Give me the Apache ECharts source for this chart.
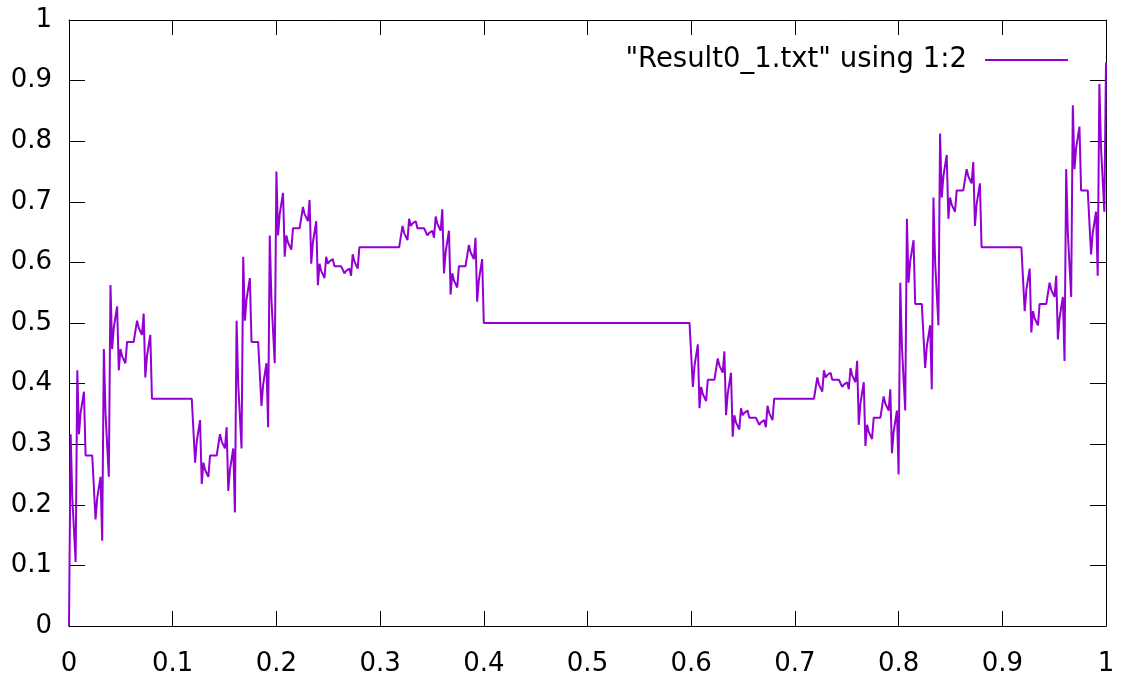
<!DOCTYPE html>
<html><head><meta charset="utf-8">
<script src="https://cdn.jsdelivr.net/npm/echarts@6/dist/echarts.min.js"></script>
<style>html,body{margin:0;padding:0;background:#fff}#c{width:1123px;height:681px}</style>
</head><body><div id="c"></div>
<script>
const seriesName = '"Result0_1.txt" using 1:2';
const xStart = 0;
const xStep = 0.0016;
const ys = [
0,.3164,.2109,.2109,.1055,.4219,.3164,.3516,.3516,.3867,.2813,.2813,.2813,.2813,.2813,.2813,.1758,.2109,.2109,.2461,.1406,.4570,.3516,.3516,.2461,
.5625,.4570,.4922,.4922,.5273,.4219,.4570,.4453,.4453,.4336,.4688,.4688,.4688,.4688,.4688,.4688,.5039,.4922,.4922,.4805,.5156,.4102,.4453,.4453,.4805,
.375,.375,.375,.375,.375,.375,.375,.375,.375,.375,.375,.375,.375,.375,.375,.375,.375,.375,.375,.375,.375,.375,.375,.375,.375,
.375,.2695,.3047,.3047,.3398,.2344,.2695,.2578,.2578,.2461,.2813,.2813,.2813,.2813,.2813,.2813,.3164,.3047,.3047,.2930,.3281,.2227,.2578,.2578,.2930,
.1875,.5039,.3984,.3984,.2930,.6094,.5039,.5391,.5391,.5742,.4688,.4688,.4688,.4688,.4688,.4688,.3633,.3984,.3984,.4336,.3281,.6445,.5391,.5391,.4336,
.75,.6445,.6797,.6797,.7148,.6094,.6445,.6328,.6328,.6211,.6563,.6563,.6563,.6563,.6563,.6563,.6914,.6797,.6797,.6680,.7031,.5977,.6328,.6328,.6680,
.5625,.5977,.5859,.5859,.5742,.6094,.5977,.6016,.6016,.6055,.5938,.5938,.5938,.5938,.5938,.5938,.5820,.5859,.5859,.5898,.5781,.6133,.6016,.6016,.5898,
.625,.625,.625,.625,.625,.625,.625,.625,.625,.625,.625,.625,.625,.625,.625,.625,.625,.625,.625,.625,.625,.625,.625,.625,.625,
.625,.6602,.6484,.6484,.6367,.6719,.6602,.6641,.6641,.6680,.6563,.6563,.6563,.6563,.6563,.6563,.6445,.6484,.6484,.6523,.6406,.6758,.6641,.6641,.6523,
.6875,.5820,.6172,.6172,.6523,.5469,.5820,.5703,.5703,.5586,.5938,.5938,.5938,.5938,.5938,.5938,.6289,.6172,.6172,.6055,.6406,.5352,.5703,.5703,.6055,
.5,.5,.5,.5,.5,.5,.5,.5,.5,.5,.5,.5,.5,.5,.5,.5,.5,.5,.5,.5,.5,.5,.5,.5,.5,
.5,.5,.5,.5,.5,.5,.5,.5,.5,.5,.5,.5,.5,.5,.5,.5,.5,.5,.5,.5,.5,.5,.5,.5,.5,
.5,.5,.5,.5,.5,.5,.5,.5,.5,.5,.5,.5,.5,.5,.5,.5,.5,.5,.5,.5,.5,.5,.5,.5,.5,
.5,.5,.5,.5,.5,.5,.5,.5,.5,.5,.5,.5,.5,.5,.5,.5,.5,.5,.5,.5,.5,.5,.5,.5,.5,
.5,.5,.5,.5,.5,.5,.5,.5,.5,.5,.5,.5,.5,.5,.5,.5,.5,.5,.5,.5,.5,.5,.5,.5,.5,
.5,.3945,.4297,.4297,.4648,.3594,.3945,.3828,.3828,.3711,.4063,.4063,.4063,.4063,.4063,.4063,.4414,.4297,.4297,.4180,.4531,.3477,.3828,.3828,.4180,
.3125,.3477,.3359,.3359,.3242,.3594,.3477,.3516,.3516,.3555,.3438,.3438,.3438,.3438,.3438,.3438,.3320,.3359,.3359,.3398,.3281,.3633,.3516,.3516,.3398,
.375,.375,.375,.375,.375,.375,.375,.375,.375,.375,.375,.375,.375,.375,.375,.375,.375,.375,.375,.375,.375,.375,.375,.375,.375,
.375,.4102,.3984,.3984,.3867,.4219,.4102,.4141,.4141,.4180,.4063,.4063,.4063,.4063,.4063,.4063,.3945,.3984,.3984,.4023,.3906,.4258,.4141,.4141,.4023,
.4375,.3320,.3672,.3672,.4023,.2969,.3320,.3203,.3203,.3086,.3438,.3438,.3438,.3438,.3438,.3438,.3789,.3672,.3672,.3555,.3906,.2852,.3203,.3203,.3555,
.25,.5664,.4609,.4609,.3555,.6719,.5664,.6016,.6016,.6367,.5313,.5313,.5313,.5313,.5313,.5313,.4258,.4609,.4609,.4961,.3906,.7070,.6016,.6016,.4961,
.8125,.7070,.7422,.7422,.7773,.6719,.7070,.6953,.6953,.6836,.7188,.7188,.7188,.7188,.7188,.7188,.7539,.7422,.7422,.7305,.7656,.6602,.6953,.6953,.7305,
.625,.625,.625,.625,.625,.625,.625,.625,.625,.625,.625,.625,.625,.625,.625,.625,.625,.625,.625,.625,.625,.625,.625,.625,.625,
.625,.5195,.5547,.5547,.5898,.4844,.5195,.5078,.5078,.4961,.5313,.5313,.5313,.5313,.5313,.5313,.5664,.5547,.5547,.5430,.5781,.4727,.5078,.5078,.5430,
.4375,.7539,.6484,.6484,.5430,.8594,.7539,.7891,.7891,.8242,.7188,.7188,.7188,.7188,.7188,.7188,.6133,.6484,.6484,.6836,.5781,.8945,.7891,.7891,.6836,
.93
];
const xTickValues = [0, 0.1, 0.2, 0.3, 0.4, 0.5, 0.6, 0.7, 0.8, 0.9, 1];

const points = ys.map((y, i) => [xStart + i * xStep, y]);
const FONT = 'DejaVu Sans';
const fmt = v => String(Math.round(v * 10) / 10);

function axisBase(extra) {
  return Object.assign({
    type: 'value', min: 0, max: 1, interval: 0.1,
    axisLine: { show: true, onZero: false, lineStyle: { color: '#000', width: 1 } },
    axisTick: { show: true, inside: true, length: 15, lineStyle: { color: '#000', width: 1 } },
    splitLine: { show: false },
    axisLabel: { show: true, color: '#000', fontFamily: FONT, fontSize: 26, formatter: fmt }
  }, extra);
}

const chart = echarts.init(document.getElementById('c'), null, { renderer: 'canvas' });
chart.setOption({
  animation: false,
  backgroundColor: '#fff',
  grid: { left: 69, right: 17, top: 20, bottom: 55, containLabel: false },
  legend: {
    data: [{ name: seriesName, icon: 'rect' }], right: 50, top: 40, align: 'right',
    itemWidth: 83, itemHeight: 2, selectedMode: false,
    itemStyle: { color: '#9400D3' },
    textStyle: { color: '#000', fontFamily: FONT, fontSize: 27.5, lineHeight: 30, padding: [0, 13, 0, 0] }
  },
  xAxis: [
    axisBase({ position: 'bottom', axisLabel: { show: true, color: '#000', fontFamily: FONT, fontSize: 26, margin: 25, formatter: fmt, customValues: xTickValues }, axisTick: { show: true, inside: true, length: 15, lineStyle: { color: '#000' } } }),
    axisBase({ position: 'top', axisLabel: { show: false } })
  ],
  yAxis: [
    axisBase({ position: 'left', axisLabel: { show: true, color: '#000', fontFamily: FONT, fontSize: 26, margin: 17, formatter: fmt }, axisTick: { show: true, inside: true, length: 16, lineStyle: { color: '#000' } } }),
    axisBase({ position: 'right', axisLabel: { show: false }, axisTick: { show: true, inside: true, length: 16, lineStyle: { color: '#000' } } })
  ],
  series: [{
    name: seriesName, type: 'line', xAxisIndex: 0, yAxisIndex: 0,
    data: points, symbol: 'none', smooth: false,
    lineStyle: { color: '#9400D3', width: 2 }, itemStyle: { color: '#9400D3' }
  }]
});
</script></body></html>
